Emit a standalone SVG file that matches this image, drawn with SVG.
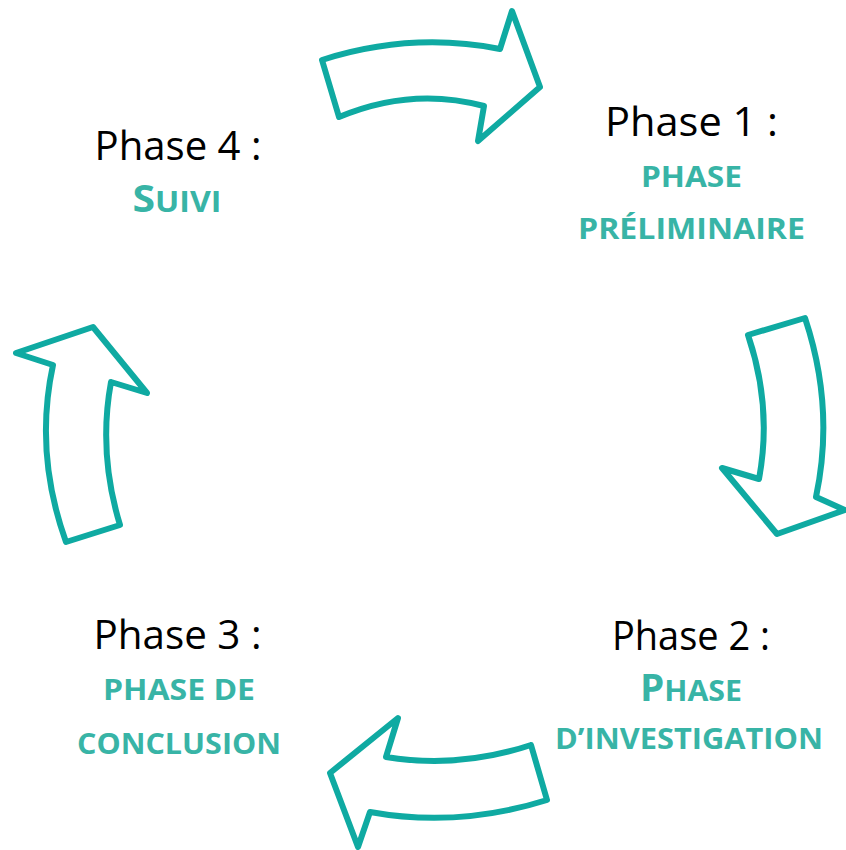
<svg xmlns="http://www.w3.org/2000/svg" width="846" height="850" viewBox="0 0 846 850">
<style>
.arrow{fill:#ffffff;stroke:#0FAAA2;stroke-width:6;stroke-linejoin:round}
.lbl{font-family:"Open Sans","Liberation Sans",sans-serif;font-size:41px;fill:#000000;text-anchor:middle}
.sc{font-family:"Open Sans","Liberation Sans",sans-serif;font-weight:700;font-size:29px;fill:#38B4A6;text-anchor:middle}
.big{font-size:37px}
</style>
<rect width="846" height="850" fill="#ffffff"/>
<g id="connectors">
<path id="arrow-top" class="arrow" d="M322,60 Q411,31.5 500,49 L512,11 L540,87 L478,141 L484,106 Q411.5,86.5 339,117 Z"/>
<path id="arrow-right" class="arrow" d="M748,335 L805,318 Q835,408 816,497 L845,510 L777,534 L722,468 L759,479 Q772.5,407 748,335 Z"/>
<path id="arrow-bottom" class="arrow" d="M531,745 Q458.5,769 386,757 L398,718 L330,773 L358,847 L370,812 Q458,828 547,800 Z"/>
<path id="arrow-left" class="arrow" d="M66,542 L120,525 Q98,453 111,382 L147,393 L93,327 L16,353 L53,365 Q34,453 66,542 Z"/>
</g>
<g id="phase1">
<text class="lbl" x="691.5" y="136" textLength="173" lengthAdjust="spacingAndGlyphs">Phase 1 :</text>
<text class="sc" x="691.5" y="187" textLength="101" lengthAdjust="spacingAndGlyphs">PHASE</text>
<text class="sc" x="691.5" y="239" textLength="227" lengthAdjust="spacingAndGlyphs">PRÉLIMINAIRE</text>
</g>
<g id="phase2">
<text class="lbl" x="691" y="650" textLength="158" lengthAdjust="spacingAndGlyphs">Phase 2 :</text>
<text class="sc" x="691" y="700.5" textLength="102" lengthAdjust="spacingAndGlyphs"><tspan class="big">P</tspan>HASE</text>
<text class="sc" x="689" y="748.5" textLength="268" lengthAdjust="spacingAndGlyphs">D’INVESTIGATION</text>
</g>
<g id="phase3">
<text class="lbl" x="177.5" y="648.5" textLength="168" lengthAdjust="spacingAndGlyphs">Phase 3 :</text>
<text class="sc" x="179" y="700" textLength="152" lengthAdjust="spacingAndGlyphs">PHASE DE</text>
<text class="sc" x="179" y="753.5" textLength="204" lengthAdjust="spacingAndGlyphs">CONCLUSION</text>
</g>
<g id="phase4">
<text class="lbl" x="178" y="160" textLength="167" lengthAdjust="spacingAndGlyphs">Phase 4 :</text>
<text class="sc" x="177" y="211.5" textLength="89" lengthAdjust="spacingAndGlyphs"><tspan class="big">S</tspan>UIVI</text>
</g>
</svg>
